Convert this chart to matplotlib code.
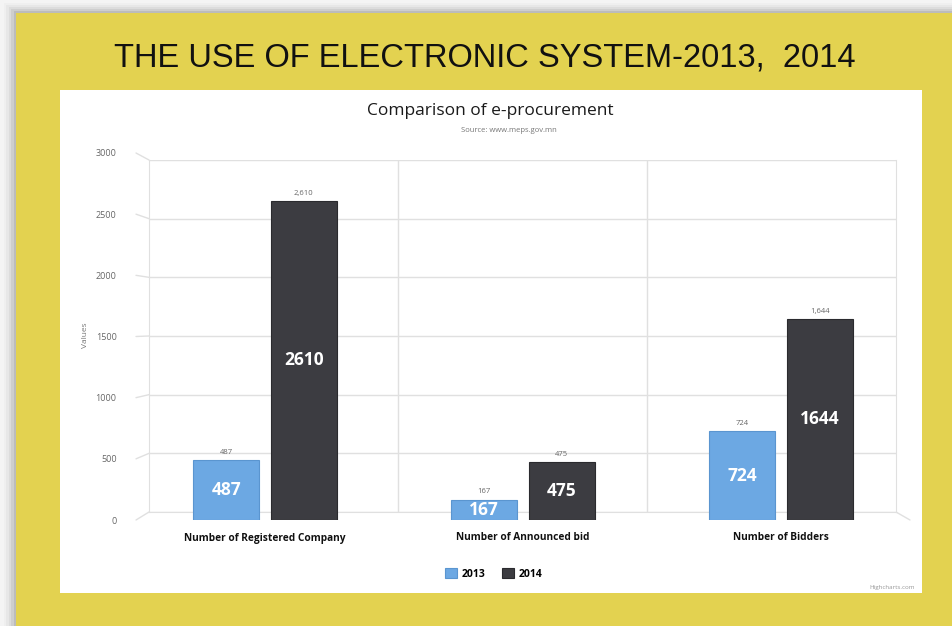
import numpy as np
import matplotlib.pyplot as plt
from matplotlib.patches import Rectangle, ConnectionPatch

# data
categories = ["Number of Registered Company", "Number of Announced bid", "Number of Bidders"]
years = ["2013", "2014"]
values_2013 = [487, 167, 724]
values_2014 = [2610, 475, 1644]
y_ticks = [0, 500, 1000, 1500, 2000, 2500, 3000]

col_2013 = "#6ca8e3"
col_2014 = "#3c3c41"
yellow = "#e3d250"

W, H = 953, 626
fig = plt.figure(figsize=(W / 100, H / 100), dpi=100)
fig.patch.set_facecolor("#f4f4f4")


def box(x0, y0, x1, y1):
    # pixel box (top-left origin) -> figure fraction rect
    return [x0 / W, 1 - y1 / H, (x1 - x0) / W, (y1 - y0) / H]


# soft shadow + yellow board + white panel
bg = fig.add_axes([0, 0, 1, 1], zorder=-10)
bg.set_xlim(0, W)
bg.set_ylim(H, 0)
bg.axis("off")
for i, a in enumerate([0.03, 0.05, 0.07, 0.10, 0.14]):
    d = 12 - 2.5 * i
    bg.add_patch(Rectangle((16 - d, 13 - d * 0.8), W, H, color="#555555", alpha=a, lw=0))
bg.add_patch(Rectangle((16, 13), W - 16, H - 13, color=yellow, lw=0))
bg.add_patch(Rectangle((60, 90), 862, 503, color="white", lw=0))

fig.text(485 / W, 1 - 58 / H, "THE USE OF ELECTRONIC SYSTEM-2013,  2014",
         fontsize=23.5, ha="center", va="center", color="#111111",
         family="Liberation Sans")
fig.text(490 / W, 1 - 111 / H, "Comparison of e-procurement", fontsize=12.5,
         ha="center", va="center", color="#1a1a1a", family="Open Sans")
fig.text(509 / W, 1 - 130 / H, "Source: www.meps.gov.mn", fontsize=5.5,
         ha="center", va="center", color="#777777", family="Open Sans")
fig.text(86 / W, 1 - 335 / H, "Values", fontsize=6, rotation=90,
         ha="center", va="center", color="#777777", family="Open Sans")
fig.text(915 / W, 1 - 588 / H, "Highcharts.com", fontsize=4.5,
         ha="right", va="center", color="#999999", family="Open Sans")

# back wall (3d look)
back = fig.add_axes(box(149, 160, 896, 512), zorder=1)
back.set_xlim(-0.5, 2.5)
back.set_ylim(0, 3000)
back.set_yticks(y_ticks)
back.set_xticks([0.5, 1.5])
back.grid(True, color="#e0e0e0", lw=1)
back.tick_params(length=0, labelleft=False, labelbottom=False)
for s in ["left", "right", "bottom"]:
    back.spines[s].set_color("#e0e0e0")
back.spines["top"].set_visible(False)

# front axes with the bars
ax = fig.add_axes(box(136, 153, 910, 520), zorder=2)
ax.patch.set_alpha(0)
ax.set_xlim(-0.5, 2.5)
ax.set_ylim(0, 3000)
ax.set_yticks(y_ticks)
ax.set_yticklabels([str(t) for t in y_ticks], fontsize=6.5, color="#666666", family="Open Sans")
ax.set_xticks(range(len(categories)))
ax.set_xticklabels(categories, fontsize=7.3, color="#111111", family="Open Sans", weight="bold")
ax.tick_params(length=0)
ax.tick_params(axis="y", pad=14)
ax.tick_params(axis="x", pad=9)
for s in ax.spines.values():
    s.set_visible(False)

for t in y_ticks:
    fig.add_artist(ConnectionPatch((-0.5, t), (-0.5, t), "data", "data", axesA=ax, axesB=back,
                                   color="#e0e0e0", lw=1))
fig.add_artist(ConnectionPatch((2.5, 0), (2.5, 0), "data", "data", axesA=ax, axesB=back,
                               color="#e0e0e0", lw=1))

x = np.arange(len(categories))
w = 0.255
off = 0.15
b1 = ax.bar(x - off, values_2013, w, color=col_2013, edgecolor="#5a95d0", lw=0.8, label=years[0])
b2 = ax.bar(x + off, values_2014, w, color=col_2014, edgecolor="#2a2a2e", lw=0.8, label=years[1])

for bars, vals in [(b1, values_2013), (b2, values_2014)]:
    for r, v in zip(bars, vals):
        cx = r.get_x() + r.get_width() / 2
        ax.annotate(f"{v:,}", (cx, v), xytext=(0, 3), textcoords="offset points",
                    ha="center", va="bottom", fontsize=5.5, color="#666666", family="Open Sans")
        ax.text(cx, v / 2, str(v), ha="center", va="center", fontsize=12.5,
                color="white", weight="bold", family="Open Sans")

fig.legend(handles=[b1, b2], labels=years, loc="center", ncol=2,
           bbox_to_anchor=(494 / W, 1 - 574 / H), frameon=False,
           prop={"family": "Open Sans", "size": 7.5, "weight": "bold"},
           handlelength=1.1, handleheight=1.1, handletextpad=0.5, columnspacing=1.6)

fig.savefig("out.png", dpi=100)
